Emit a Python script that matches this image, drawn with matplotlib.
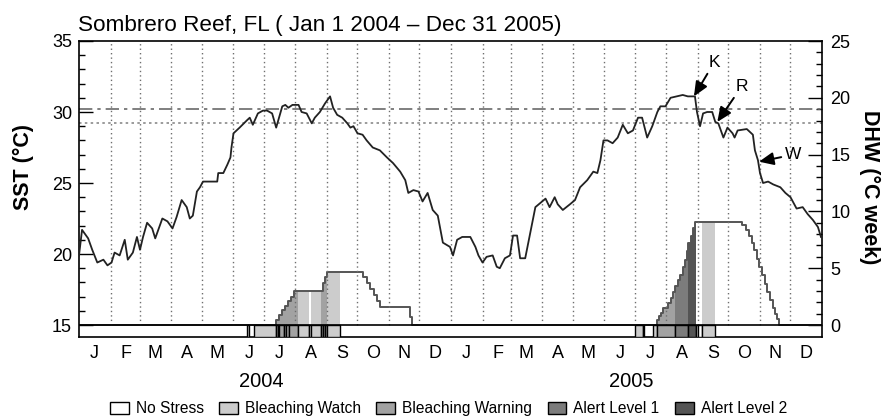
import numpy as np
import matplotlib
matplotlib.use('Agg')
import matplotlib.pyplot as plt
import matplotlib.dates as mdates
from matplotlib.patches import Patch
from matplotlib.ticker import FixedLocator, FuncFormatter

plt.rcParams['font.family'] = ['Liberation Sans', 'DejaVu Sans']

# SST trace, days since Jan 1 2004 and deg C
sst_day = [0, 3, 9, 13, 18, 24, 28, 32, 35, 40,
           45, 48, 53, 57, 60, 63, 67, 72, 75, 82,
           87, 92, 96, 101, 106, 109, 112, 116, 119, 122,
           136, 137, 142, 146, 149, 150, 151, 152, 158, 165,
           168, 171, 176, 181, 185, 190, 194, 200, 203, 206,
           210, 216, 219, 224, 229, 232, 237, 242, 247, 250,
           254, 259, 264, 267, 270, 274, 279, 283, 289, 296,
           303, 309, 316, 321, 324, 329, 334, 338, 343, 348,
           353, 358, 365,
           368, 372, 377, 385, 390, 393, 397, 401, 407, 411,
           414, 419, 424, 427, 431, 434, 439, 444, 449, 454,
           459, 463, 468, 471, 476, 483, 488, 493, 500, 506,
           510, 513, 516, 520, 525, 530, 535, 540, 545, 550,
           554, 559, 564, 569, 572, 577, 582, 588, 594, 599,
           606, 608, 611, 614, 618, 623, 626, 629, 634, 638,
           643, 645, 648, 657, 663, 665, 668, 670, 673, 678,
           683, 690, 695, 700, 706, 712, 717, 722, 727, 730]
sst_val = [19.9, 21.7, 21.1, 20.3, 19.4, 19.6, 19.2, 19.4, 20.1, 19.9,
           21.0, 19.6, 20.1, 21.2, 20.3, 21.2, 22.2, 21.8, 21.1, 22.5,
           22.3, 21.8, 22.6, 23.8, 23.3, 22.5, 22.7, 24.4, 24.7, 25.1,
           25.1, 25.7, 25.7, 26.3, 26.8, 27.5, 28.0, 28.5, 28.9, 29.4,
           29.6, 29.1, 29.9, 30.1, 30.1, 29.9, 28.9, 30.4, 30.5, 30.3,
           30.5, 30.5, 30.0, 29.9, 29.2, 29.6, 30.0, 30.6, 31.1, 30.3,
           29.8, 29.6, 29.2, 28.9, 29.0, 28.5, 28.4, 28.0, 27.5, 27.3,
           26.8, 26.4, 25.8, 25.2, 24.3, 24.5, 24.4, 23.7, 24.3, 23.1,
           22.7, 20.8, 20.5,
           19.9, 21.0, 21.2, 21.2, 20.5, 19.9, 19.4, 19.8, 19.9, 19.1,
           19.0, 19.7, 19.9, 21.3, 21.3, 19.7, 19.7, 21.5, 23.3, 23.6,
           23.9, 23.3, 24.0, 23.5, 23.1, 23.5, 23.8, 24.7, 25.2, 25.8,
           25.7, 26.6, 28.0, 28.0, 27.8, 28.2, 29.1, 28.5, 28.7, 29.6,
           29.6, 28.2, 29.0, 30.0, 30.4, 30.4, 31.0, 31.1, 31.2, 31.1,
           31.1, 30.0, 29.0, 29.9, 30.0, 30.0, 29.3, 29.2, 28.2, 28.9,
           28.5, 28.2, 28.7, 28.8, 28.4, 27.3, 26.6, 25.7, 25.0, 25.1,
           24.9, 24.7, 24.3, 24.0, 23.2, 23.3, 22.8, 22.4, 21.9, 21.2]

# DHW step changes, days since Jan 1 2004 and deg C week
dhw_day = [0, 194, 197, 200, 203, 206, 209, 212, 240, 242, 244,
           279, 283, 286, 290, 293, 296, 326, 328,
           569, 571, 573, 575, 579, 582, 584, 586, 589, 591, 594, 596,
           598, 599, 602, 604, 606,
           652, 656, 659, 662, 664, 667, 669, 672, 675, 677, 680, 683,
           685, 687, 689, 731]
dhw_val = [0, 0.45, 0.9, 1.3, 1.7, 2.1, 2.5, 3.0, 3.7, 4.2, 4.7,
           4.2, 3.7, 3.2, 2.6, 2.1, 1.6, 0.7, 0,
           0.45, 0.8, 1.1, 1.5, 1.9, 2.4, 2.9, 3.4, 4.0, 4.4, 5.1, 5.7,
           6.5, 7.2, 7.8, 8.5, 9.1,
           8.8, 8.4, 7.8, 7.2, 6.6, 5.8, 5.1, 4.4, 3.6, 2.9, 2.2, 1.5,
           1.0, 0.5, 0, 0]

# stress level boxes of the bottom strip (0 none .. 4 alert 2)
stress_start = [165.3, 171.9, 193.8, 195.5, 197.1, 202.0, 203.7, 206.9,
                215.1, 226.5, 228.2, 238.0, 239.7, 242.5, 244.2,
                547.0, 554.4, 564.7, 568.4, 586.4, 598.7, 607.5, 609.3, 613.4]
stress_end = [167.6, 193.8, 195.5, 197.1, 202.0, 203.7, 206.9, 215.1,
              226.5, 228.2, 238.0, 239.7, 242.5, 244.2, 256.8,
              554.4, 556.0, 568.4, 586.4, 598.7, 607.5, 609.3, 613.4, 625.7]
stress_level = [1, 1, 2, 2, 2, 2, 2, 2,
                1, 0, 1, 2, 2, 2, 1,
                1, 1, 1, 2, 3, 4, 0, 0, 1]

level_names = ['No Stress', 'Bleaching Watch', 'Bleaching Warning',
               'Alert Level 1', 'Alert Level 2']
level_colors = ['white', '#cccccc', '#a2a2a2', '#7c7c7c', '#545454']

mmm = 29.25
threshold = 30.2
years = ['2004', '2005']
year_centres = ['2004-06-28', '2005-06-27']

# K, R, W markers: day and sst at the arrow tip, then at the letter
mark_labels = ['K', 'R', 'W']
mark_day = [605, 628, 669]
mark_sst = [31.1, 29.3, 26.5]
mark_text_day = [625, 652, 703]
mark_text_sst = [33.5, 31.8, 27.0]

base = mdates.date2num(np.datetime64('2004-01-01'))
floor = 14.155

fig = plt.figure(figsize=(8.86, 4.18), dpi=100)
ax = fig.add_axes([79 / 886, 81 / 418, 743 / 886, 296 / 418])
ax2 = ax.twinx()
ax.set_zorder(ax2.get_zorder() + 1)
ax.patch.set_visible(False)

ax.set_xlim(base, base + 731)
ax.set_ylim(floor, 35)
ax2.set_ylim((floor - 15) * 1.25, 25)

# DHW fill coloured by stress level, then the stair outline
dd = np.array(dhw_day, dtype=float)
dv = np.array(dhw_val, dtype=float)


def dhw_at(d):
    i = np.searchsorted(dd, d, side='right') - 1
    return dv[max(i, 0)]


for s, e, lev in zip(stress_start, stress_end, stress_level):
    if lev == 0:
        continue
    xs = [s] + [d for d in dhw_day if s < d < e] + [e]
    ys = [dhw_at(x) for x in xs]
    ax2.fill_between(base + np.array(xs), 0, ys, step='post',
                     color=level_colors[lev], lw=0)
ax2.step(base + dd, dv, where='post', color='#555555', lw=1.4)

# month grid and reference SST lines
month_starts = mdates.date2num(np.arange('2004-02', '2006-01', dtype='datetime64[M]'))
ax.vlines(month_starts, 15, 35, colors='#6e6e6e', linestyles=(0, (1, 2.2)), lw=1.0, zorder=2)
ax.axhline(threshold, color='#6a6a6a', lw=1.2, ls=(0, (8, 3, 2, 3)), zorder=2)
ax.axhline(mmm, color='#8a8a8a', lw=1.2, ls=(0, (1.5, 2)), zorder=2)

# stress strip
ax.bar(base + np.array(stress_start), 15 - floor,
       width=np.array(stress_end) - np.array(stress_start), bottom=floor,
       align='edge', color=[level_colors[l] for l in stress_level],
       edgecolor='black', linewidth=1.0, zorder=3)
ax.axhline(15, color='black', lw=1.2, zorder=4)

ax.plot(base + np.array(sst_day), sst_val, color='#222222', lw=1.3, zorder=5)

for lab, d, v, td, tv in zip(mark_labels, mark_day, mark_sst, mark_text_day, mark_text_sst):
    ax.annotate(lab, xy=(base + d, v), xytext=(base + td, tv),
                ha='center', va='center', fontsize=12.5, zorder=6,
                arrowprops=dict(arrowstyle='-|>,head_length=0.8,head_width=0.35',
                                mutation_scale=11, color='black', lw=1.4,
                                shrinkA=1, shrinkB=0))

# axes styling
for sp in ax.spines.values():
    sp.set_linewidth(1.2)
for sp in ax2.spines.values():
    sp.set_visible(False)

ax.yaxis.set_major_locator(FixedLocator([15, 20, 25, 30, 35]))
ax.yaxis.set_minor_locator(FixedLocator(list(range(15, 36))))
ax.tick_params(axis='y', which='major', direction='in', length=10, width=1,
               labelsize=13, pad=5)
ax.tick_params(axis='y', which='minor', direction='in', length=4, width=1)
ax2.yaxis.set_major_locator(FixedLocator([0, 5, 10, 15, 20, 25]))
ax2.yaxis.set_minor_locator(FixedLocator(list(range(0, 26))))
ax2.tick_params(axis='y', which='major', direction='in', length=10, width=1,
                labelsize=13, pad=6)
ax2.tick_params(axis='y', which='minor', direction='in', length=4, width=1)

ax.xaxis.set_major_locator(mdates.MonthLocator(bymonthday=16))
ax.xaxis.set_major_formatter(FuncFormatter(lambda v, p: mdates.num2date(v).strftime('%b')[0]))
ax.xaxis.set_minor_locator(FixedLocator([]))
ax.tick_params(axis='x', which='major', length=0, labelsize=13, pad=6)

for yr, c in zip(years, year_centres):
    ax.text(mdates.date2num(np.datetime64(c)), -0.15, yr, transform=ax.get_xaxis_transform(),
            ha='center', va='center', fontsize=14.5)

ax.set_ylabel('SST (°C)', fontsize=15.5, fontweight='bold', va='center')
ax.yaxis.set_label_coords(-0.0754, 0.575)
ax2.set_ylabel('DHW (°C week)', fontsize=15.5, fontweight='bold', rotation=270, va='center')
ax2.yaxis.set_label_coords(1.0646, 0.507)

fig.text(78 / 886, 1 - 25 / 418, 'Sombrero Reef, FL ( Jan 1 2004 \u2013 Dec 31 2005)',
         fontsize=16.2, ha='left', va='center')

handles = [Patch(facecolor=c, edgecolor='black', linewidth=1) for c in level_colors]
fig.legend(handles, level_names, loc='center', bbox_to_anchor=(0.506, 0.022), ncol=5,
           frameon=False, fontsize=11.2, handlelength=1.2, handleheight=0.8,
           handletextpad=0.45, columnspacing=1.0, borderpad=0, borderaxespad=0)

fig.savefig('out.png', dpi=100)
